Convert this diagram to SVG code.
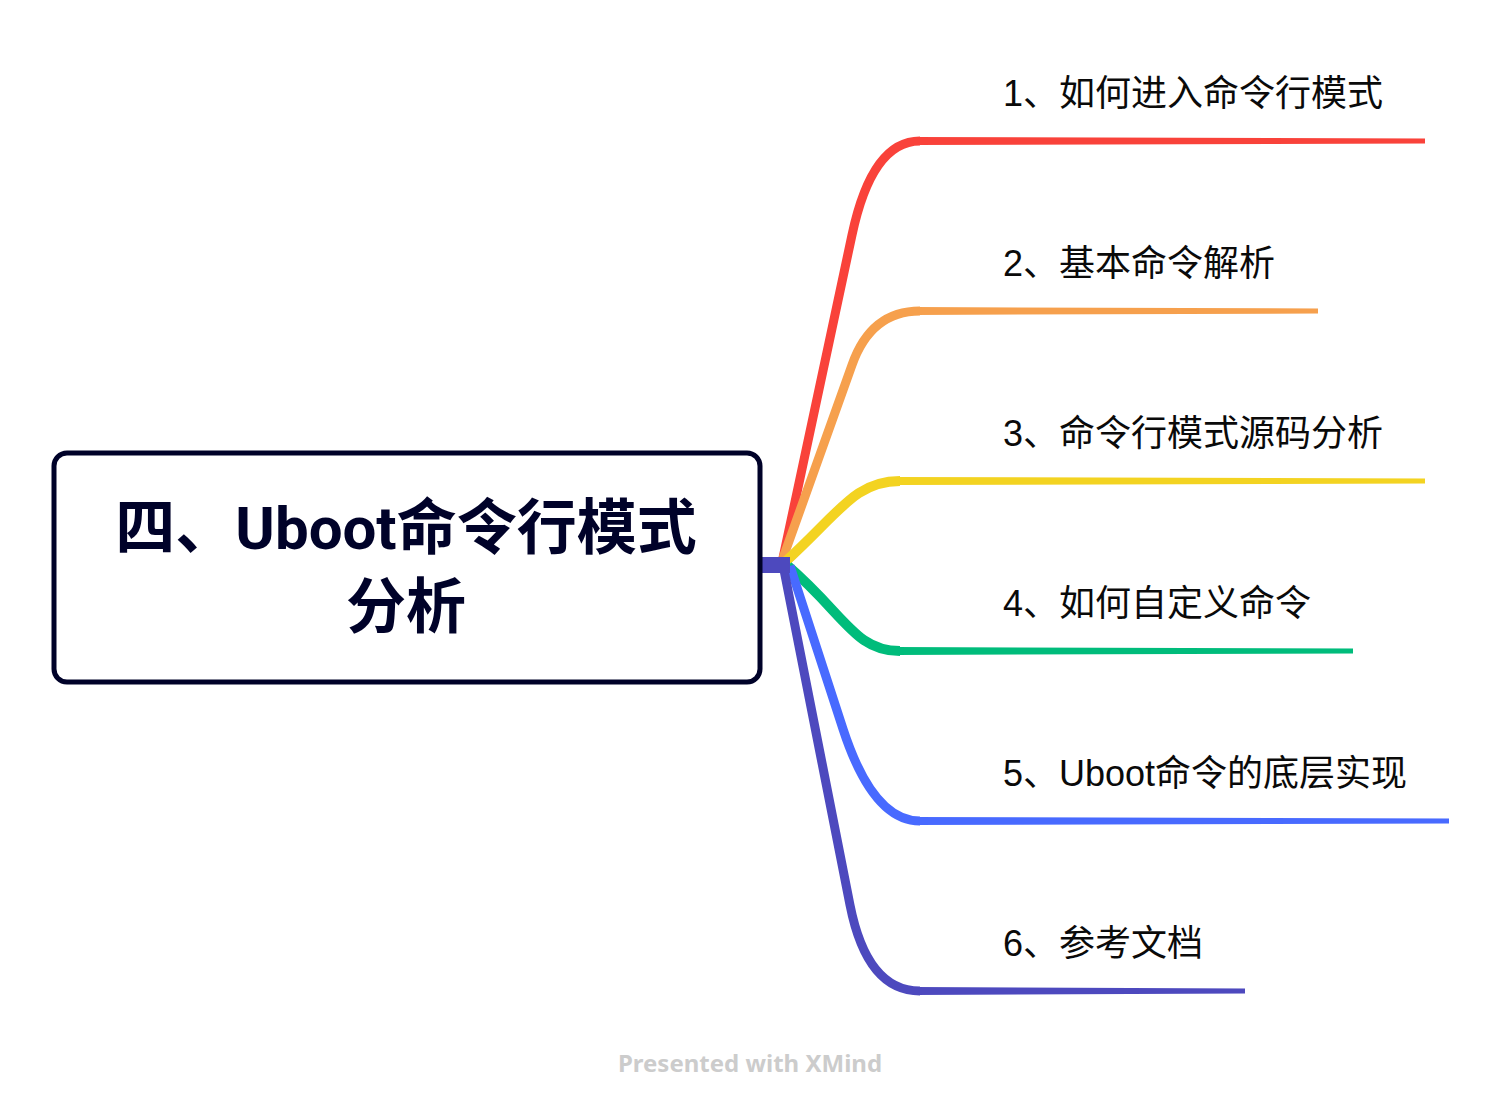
<svg xmlns="http://www.w3.org/2000/svg" width="1500" height="1114" viewBox="0 0 1500 1114">
<style>
.br{fill:none;stroke-linecap:butt;stroke-linejoin:round}
.lbl{font-family:"Liberation Sans","Noto Sans CJK SC",sans-serif;font-size:36px;fill:#0a0a0a}
.root{font-family:Roboto,"Noto Sans CJK SC",sans-serif;font-size:60px;font-weight:700;fill:#000229;text-anchor:middle}
</style>
<rect width="1500" height="1114" fill="#ffffff"/>
<g id="connectors">
  <path class="br" d="M783,558 L852,235 Q872,141 920,141" stroke="#F9423A" stroke-width="9"/>
  <polygon points="915,137 1425,138.5 1425,143.5 915,145" fill="#F9423A"/>
  <path class="br" d="M783,558 L852,365 Q871,311 920,311" stroke="#F6A04D" stroke-width="9"/>
  <polygon points="915,307 1318,308.5 1318,313.5 915,315" fill="#F6A04D"/>
  <path class="br" d="M785,562 C840,512 855,481 900,481" stroke="#F3D321" stroke-width="10"/>
  <polygon points="895,477 1425,478.5 1425,483.5 895,485" fill="#F3D321"/>
  <path class="br" d="M788,566 C845,615 855,651 900,651" stroke="#00BC7B" stroke-width="10"/>
  <polygon points="895,647 1353,648.5 1353,653.5 895,655" fill="#00BC7B"/>
  <path class="br" d="M790,566 L843,729 Q873,821 920,821" stroke="#486AFF" stroke-width="9"/>
  <polygon points="915,817 1449,818.5 1449,823.5 915,825" fill="#486AFF"/>
  <path class="br" d="M783,565 L850,905 Q867,991 920,991" stroke="#4D49BE" stroke-width="9"/>
  <polygon points="915,987 1245,988.5 1245,993.5 915,995" fill="#4D49BE"/>
  <polygon points="759,557 790,557 790,573 759,573" fill="#4D49BE"/>
</g>
<g id="root">
  <rect x="54" y="453" width="706" height="229" rx="13" ry="13" fill="#ffffff" stroke="#000229" stroke-width="5"/>
  <text class="root" x="406" y="549">四、Uboot命令行模式</text>
  <text class="root" x="406" y="628">分析</text>
</g>
<g id="n1"><text class="lbl" x="1003" y="106">1、如何进入命令行模式</text></g>
<g id="n2"><text class="lbl" x="1003" y="276">2、基本命令解析</text></g>
<g id="n3"><text class="lbl" x="1003" y="446">3、命令行模式源码分析</text></g>
<g id="n4"><text class="lbl" x="1003" y="616">4、如何自定义命令</text></g>
<g id="n5"><text class="lbl" x="1003" y="786">5、Uboot命令的底层实现</text></g>
<g id="n6"><text class="lbl" x="1003" y="956">6、参考文档</text></g>
<text x="750" y="1072" text-anchor="middle" font-family="'Noto Sans',sans-serif" font-size="24" font-weight="700" fill="#cccccc">Presented with XMind</text>
</svg>
